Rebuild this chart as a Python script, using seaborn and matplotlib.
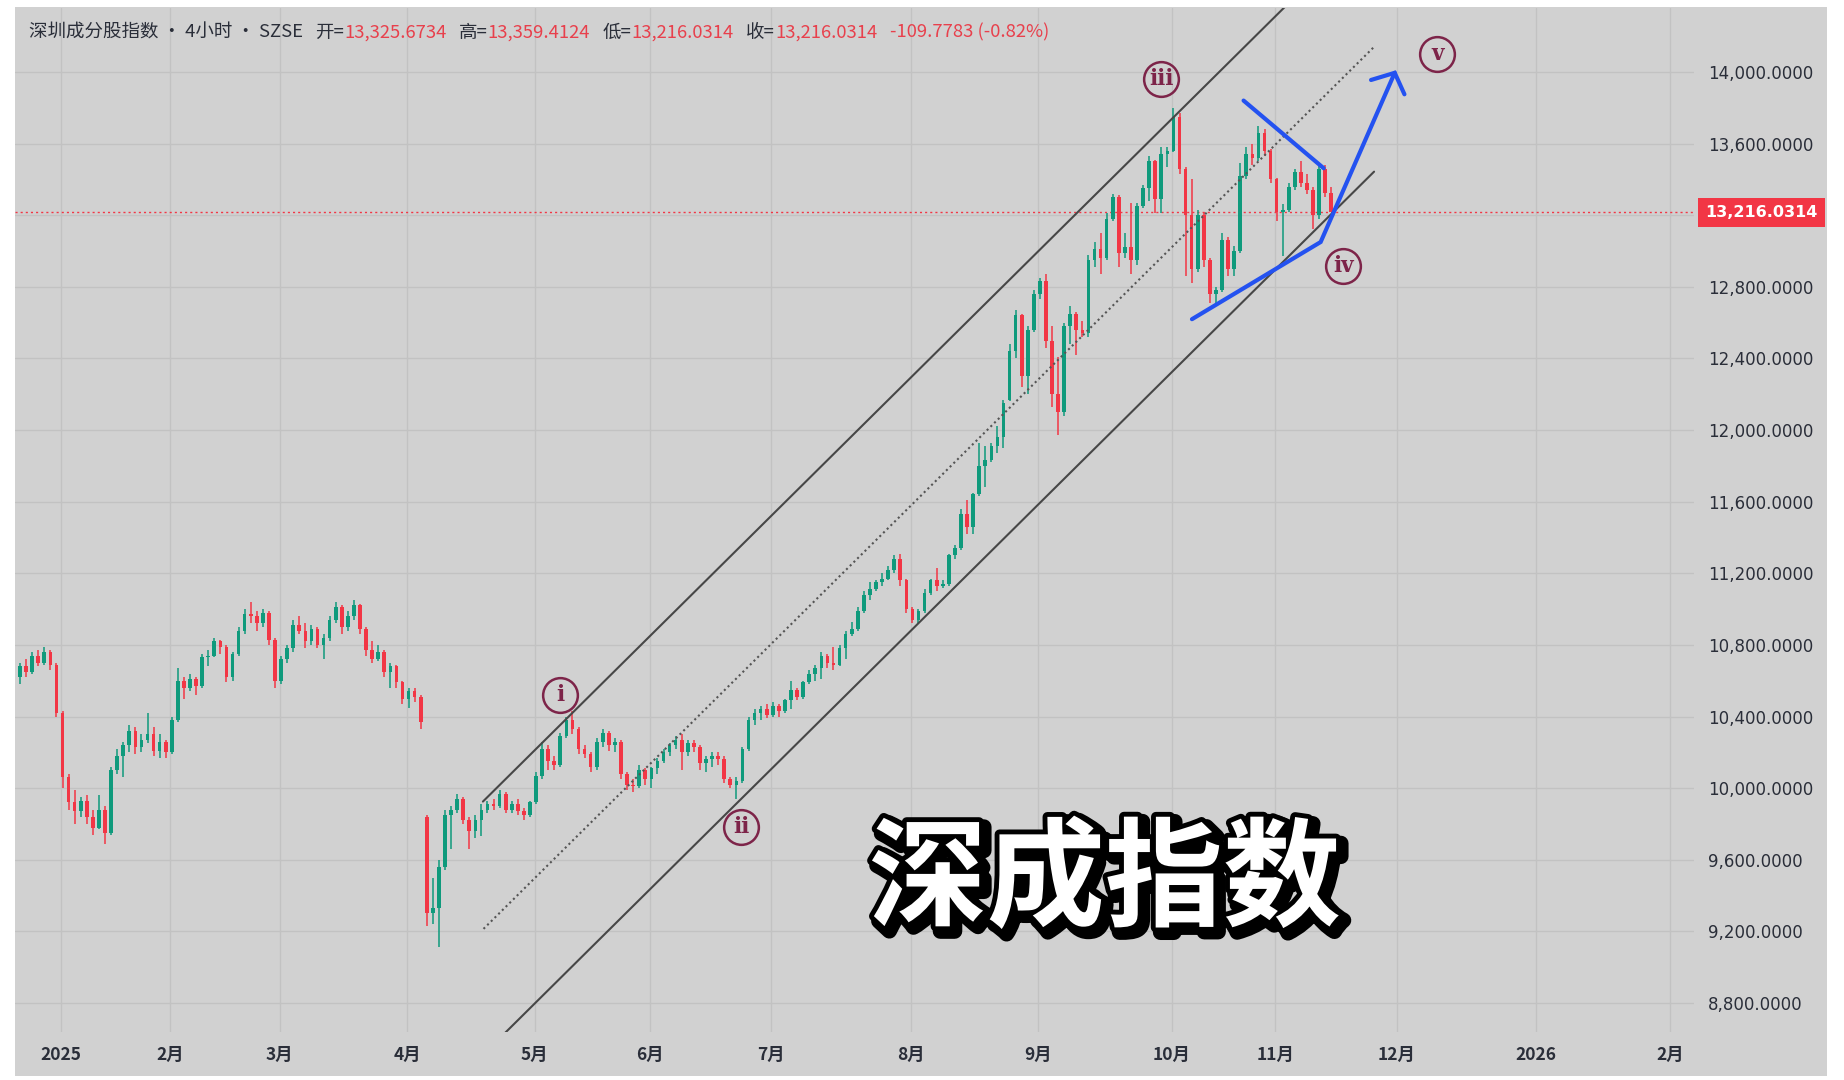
import numpy as np
import pandas as pd
import matplotlib
matplotlib.use("Agg")
import matplotlib.pyplot as plt
import seaborn as sns
from matplotlib import patheffects as pe
from matplotlib.patches import Rectangle

sns.set_theme(style="white")
plt.rcParams['font.family'] = ['Noto Sans CJK SC', 'DejaVu Sans']
plt.rcParams['axes.unicode_minus'] = False

# ---------------- data (daily candles, index 0 = 2025-01-02) ----------------
first_index = -7
opens = [
    10620, 10680, 10650, 10740, 10700, 10760, 10690, 10420, 10060, 9920,
    9870, 9930, 9840, 9780, 9880, 9750, 10100, 10180, 10240, 10320,
    10230, 10270, 10300, 10210, 10260, 10200, 10380, 10600, 10560, 10610,
    10570, 10730, 10740, 10820, 10790, 10620, 10750, 10880, 10970, 10960,
    10920, 10980, 10830, 10600, 10720, 10780, 10910, 10880, 10820, 10890,
    10800, 10840, 10940, 11010, 10900, 10960, 11020, 10890, 10770, 10720,
    10760, 10650, 10680, 10590, 10500, 10540, 10510, 9840, 9300, 9330,
    9560, 9850, 9880, 9940, 9820, 9760, 9820, 9880, 9910, 9900,
    9970, 9880, 9910, 9870, 9850, 9920, 10070, 10220, 10150, 10130,
    10290, 10380, 10330, 10220, 10190, 10120, 10260, 10310, 10240, 10260,
    10080, 10020, 10010, 10100, 10050, 10110, 10150, 10200, 10240, 10270,
    10200, 10250, 10230, 10140, 10160, 10180, 10160, 10050, 10020, 10040,
    10220, 10380, 10420, 10440, 10410, 10460, 10430, 10490, 10550, 10510,
    10590, 10640, 10670, 10740, 10700, 10690, 10780, 10860, 10890, 10990,
    11080, 11110, 11150, 11170, 11220, 11280, 11160, 11000, 10940, 10990,
    11090, 11160, 11130, 11140, 11300, 11340, 11530, 11460, 11640, 11800,
    11830, 11910, 11960, 12170, 12440, 12640, 12300, 12560, 12760, 12830,
    12500, 12200, 12100, 12580, 12650, 12560, 12540, 12950, 13010, 12960,
    13180, 13300, 12990, 13020, 12950, 13250, 13350, 13500, 13290, 13540,
    13560, 13750, 13460, 13200, 12900, 13200, 12950, 12760, 12780, 13060,
    12900, 13000, 13420, 13540, 13520, 13660, 13560, 13400, 13220, 13230,
    13360, 13440, 13380, 13340, 13200, 13460, 13325.6734,
]
highs = [
    10700, 10720, 10760, 10770, 10790, 10770, 10700, 10430, 10080, 9990,
    9950, 9960, 9880, 9960, 9900, 10120, 10220, 10260, 10350, 10340,
    10300, 10420, 10340, 10300, 10270, 10400, 10670, 10620, 10640, 10620,
    10750, 10770, 10840, 10830, 10800, 10760, 10900, 11000, 11040, 10990,
    11000, 10990, 10840, 10740, 10800, 10940, 10960, 10920, 10910, 10900,
    10860, 10960, 11040, 11020, 10990, 11050, 11030, 10900, 10820, 10800,
    10770, 10700, 10690, 10600, 10560, 10560, 10520, 9850, 9500, 9600,
    9880, 9900, 9970, 9950, 9840, 9850, 9910, 9930, 9940, 9990,
    9980, 9930, 9940, 9890, 9930, 10090, 10260, 10240, 10180, 10310,
    10400, 10430, 10340, 10240, 10200, 10280, 10330, 10320, 10280, 10270,
    10090, 10050, 10130, 10110, 10120, 10170, 10220, 10250, 10290, 10300,
    10270, 10270, 10240, 10180, 10200, 10200, 10180, 10060, 10060, 10230,
    10400, 10440, 10460, 10470, 10480, 10470, 10500, 10600, 10560, 10600,
    10660, 10690, 10760, 10750, 10790, 10800, 10880, 10930, 11010, 11100,
    11150, 11160, 11200, 11240, 11300, 11310, 11170, 11010, 11000, 11110,
    11170, 11230, 11160, 11310, 11360, 11560, 11610, 11650, 11930, 11910,
    11930, 12020, 12170, 12480, 12670, 12650, 12580, 12780, 12850, 12870,
    12580, 12410, 12600, 12690, 12660, 12610, 12980, 13050, 13100, 13210,
    13320, 13310, 13100, 13270, 13270, 13370, 13530, 13510, 13580, 13580,
    13800, 13770, 13470, 13400, 13230, 13220, 12960, 12800, 13100, 13080,
    13030, 13490, 13580, 13600, 13700, 13680, 13570, 13410, 13260, 13380,
    13460, 13500, 13430, 13360, 13480, 13480, 13359.4124,
]
lows = [
    10580, 10620, 10640, 10680, 10690, 10660, 10400, 10000, 9880, 9800,
    9840, 9800, 9740, 9770, 9690, 9740, 10080, 10060, 10200, 10190,
    10200, 10250, 10180, 10170, 10170, 10190, 10370, 10500, 10540, 10520,
    10560, 10680, 10730, 10750, 10590, 10600, 10740, 10860, 10920, 10880,
    10900, 10800, 10560, 10580, 10700, 10760, 10860, 10780, 10800, 10780,
    10720, 10820, 10920, 10860, 10880, 10940, 10860, 10740, 10700, 10710,
    10620, 10560, 10560, 10470, 10450, 10480, 10330, 9230, 9240, 9110,
    9540, 9660, 9860, 9800, 9660, 9720, 9730, 9860, 9880, 9890,
    9860, 9860, 9850, 9820, 9840, 9910, 10050, 10100, 10100, 10120,
    10280, 10300, 10190, 10170, 10090, 10100, 10230, 10210, 10200, 10050,
    9990, 9980, 10000, 10020, 10000, 10080, 10140, 10180, 10220, 10100,
    10180, 10200, 10100, 10090, 10120, 10130, 10030, 10000, 9940, 10030,
    10210, 10350, 10380, 10390, 10400, 10400, 10420, 10440, 10490, 10500,
    10580, 10600, 10610, 10670, 10660, 10680, 10720, 10850, 10880, 10980,
    11050, 11100, 11130, 11160, 11200, 11130, 10980, 10920, 10920, 10980,
    11080, 11100, 11120, 11130, 11280, 11330, 11420, 11420, 11630, 11680,
    11820, 11870, 11900, 12160, 12400, 12240, 12200, 12550, 12730, 12460,
    12130, 11970, 12080, 12480, 12420, 12520, 12520, 12910, 12870, 12950,
    13170, 12910, 12960, 12870, 12920, 13240, 13280, 13210, 13210, 13470,
    13550, 13430, 12860, 12820, 12880, 12910, 12710, 12690, 12770, 12860,
    12860, 12990, 13400, 13480, 13500, 13530, 13380, 13170, 12970, 13220,
    13340, 13360, 13320, 13120, 13180, 13300, 13216.0314,
]
closes = [
    10680, 10650, 10740, 10700, 10760, 10690, 10420, 10060, 9920, 9870,
    9930, 9840, 9780, 9880, 9750, 10100, 10180, 10240, 10320, 10230,
    10270, 10300, 10210, 10260, 10200, 10380, 10600, 10560, 10610, 10570,
    10730, 10740, 10820, 10790, 10620, 10750, 10880, 10970, 10960, 10920,
    10980, 10830, 10600, 10720, 10780, 10910, 10880, 10820, 10890, 10800,
    10840, 10940, 11010, 10900, 10960, 11020, 10890, 10770, 10720, 10760,
    10650, 10680, 10590, 10500, 10540, 10510, 10370, 9300, 9330, 9560,
    9850, 9880, 9940, 9820, 9760, 9820, 9880, 9910, 9900, 9970,
    9880, 9910, 9870, 9850, 9920, 10070, 10220, 10150, 10130, 10290,
    10380, 10330, 10220, 10190, 10120, 10260, 10310, 10240, 10260, 10080,
    10020, 10010, 10100, 10050, 10110, 10150, 10200, 10240, 10270, 10200,
    10250, 10230, 10140, 10160, 10180, 10160, 10050, 10020, 10040, 10220,
    10380, 10420, 10440, 10410, 10460, 10430, 10490, 10550, 10510, 10590,
    10640, 10670, 10740, 10700, 10690, 10780, 10860, 10890, 10990, 11080,
    11110, 11150, 11170, 11220, 11280, 11160, 11000, 10940, 10990, 11090,
    11160, 11130, 11140, 11300, 11340, 11530, 11460, 11640, 11800, 11830,
    11910, 11960, 12150, 12440, 12640, 12300, 12560, 12760, 12830, 12500,
    12200, 12100, 12580, 12650, 12560, 12540, 12950, 13010, 12960, 13180,
    13300, 12990, 13020, 12950, 13250, 13350, 13500, 13290, 13540, 13560,
    13750, 13460, 13200, 12900, 13200, 12950, 12760, 12780, 13060, 12900,
    13000, 13420, 13540, 13520, 13660, 13560, 13400, 13220, 13230, 13360,
    13440, 13380, 13340, 13200, 13460, 13325.8097, 13216.0314,
]

month_pos = [0, 18, 36, 57, 78, 97, 117, 140, 161, 183, 200, 220, 243, 265]
month_labels = ["2025", "2月", "3月", "4月", "5月", "6月", "7月", "8月",
                "9月", "10月", "11月", "12月", "2026", "2月"]
y_ticks = [8800, 9200, 9600, 10000, 10400, 10800, 11200, 11600,
           12000, 12400, 12800, 13200, 13600, 14000]

# channel (trend lines) anchor points, in (bar index, price)
chan_upper_x, chan_upper_y = [69.5, 201.6], [9925, 14363]
chan_mid_x, chan_mid_y = [69.6, 216.3], [9214, 14140]
chan_lower_x, chan_lower_y = [73.0, 216.3], [8628, 13443]
# hand-drawn blue lines
blue_top_x, blue_top_y = [194.8, 208.0], [13840, 13462]
blue_path_x, blue_path_y = [186.3, 207.5, 219.7], [12619, 13050, 13995]
arrow_x, arrow_y = [215.8, 219.7, 221.3], [13955, 13995, 13875]
# wave labels
wave_names = ["i", "ii", "iii", "iv", "v"]
wave_x = [82.2, 112.0, 181.2, 211.2, 226.7]
wave_y = [10521, 9783, 13961, 12917, 14101]

# ---------------- style ----------------
BG = "#d1d1d1"
GRID = "#c2c2c2"
GREEN = "#0f9a7c"
RED = "#f23645"
HRED = "#e8404c"
DARK = "#2a2e39"
BLUE = "#2452f0"
MAROON = "#7d2449"
W, H = 1844, 1080

fig = plt.figure(figsize=(W / 100, H / 100), dpi=100, facecolor="white")
fig.add_artist(Rectangle((15 / W, 4 / H), (1827 - 15) / W, (1076 - 7) / H,
                         transform=fig.transFigure, facecolor=BG,
                         edgecolor="none", zorder=0))
ax = fig.add_axes([15 / W, 48 / H, 1679 / W, 1024 / H])
ax.set_facecolor(BG)

df = pd.DataFrame({"x": np.arange(first_index, first_index + len(closes)) + 0.25,
                   "open": opens, "high": highs, "low": lows, "close": closes})
df["high"] = np.maximum(df["high"], df[["open", "close"]].max(axis=1))
df["low"] = np.minimum(df["low"], df[["open", "close"]].min(axis=1))
col = np.where(df["close"] >= df["open"], GREEN, RED)

ax.vlines(df["x"], df["low"], df["high"], colors=col, lw=1.1, zorder=3)
body = np.maximum((df["close"] - df["open"]).abs(), 8)
ax.bar(df["x"], body, bottom=df[["open", "close"]].min(axis=1), width=0.6,
       color=col, linewidth=0, zorder=4)

# channel lines
sns.lineplot(x=chan_upper_x, y=chan_upper_y, ax=ax, color="#474747", lw=1.5, zorder=5)
sns.lineplot(x=chan_lower_x, y=chan_lower_y, ax=ax, color="#474747", lw=1.5, zorder=5)
sns.lineplot(x=chan_mid_x, y=chan_mid_y, ax=ax, color="#555555", lw=1.5,
             linestyle=(0, (1, 1.5)), zorder=5)

# blue drawing
ax.plot(blue_top_x, blue_top_y, color=BLUE, lw=3, solid_capstyle="round", zorder=6)
ax.plot(blue_path_x, blue_path_y, color=BLUE, lw=3, solid_capstyle="round",
        solid_joinstyle="miter", zorder=6)
ax.plot(arrow_x, arrow_y, color=BLUE, lw=3, solid_capstyle="round",
        solid_joinstyle="miter", zorder=6, clip_on=False)

# wave labels
for name, wx, wy in zip(wave_names, wave_x, wave_y):
    ax.plot([wx], [wy], marker="o", ms=25, mfc="none", mec=MAROON, mew=1.8,
            zorder=7, clip_on=False)
    ax.text(wx, wy, name, ha="center", va="center", fontsize=15.5,
            family="DejaVu Serif", fontweight="bold", color=MAROON, zorder=7)

# last price line + label
last = closes[-1]
ax.axhline(last, color=RED, lw=1.0, ls=(0, (1.5, 2.2)), zorder=2)
ax.annotate(f"{last:,.4f}", xy=(1, last), xycoords=("axes fraction", "data"),
            xytext=(8, 0), textcoords="offset points", ha="left", va="center",
            fontsize=11.5, fontweight="bold", family="DejaVu Sans", color="white",
            bbox=dict(boxstyle="square,pad=0.45", fc=RED, ec="none"),
            annotation_clip=False, zorder=8)

# axes
ax.set_xlim(-7.58, 269.0)
ax.set_ylim(8638, 14357)
ax.yaxis.tick_right()
ax.set_yticks(y_ticks)
ax.set_yticklabels(["" if abs(v - last) < 150 else f"{v:,.4f}" for v in y_ticks],
                   family="DejaVu Sans")
ax.tick_params(axis="y", length=0, pad=10, labelsize=12, colors=DARK)
ax.set_xticks(month_pos)
ax.set_xticklabels(month_labels, fontweight="bold")
ax.tick_params(axis="x", length=0, pad=10, labelsize=12.5, colors=DARK)
ax.grid(True, color=GRID, lw=1)
ax.set_axisbelow(True)
for s in ax.spines.values():
    s.set_visible(False)
ax.set_xlabel("")
ax.set_ylabel("")

# header line
chg = closes[-1] - closes[-2]
pct = chg / closes[-2] * 100
pieces = [
    ("深圳成分股指数 · 4小时 · SZSE", DARK, 0),
    ("开=", DARK, 9), (f"{opens[-1]:,.4f}", HRED, 0),
    ("高=", DARK, 9), (f"{highs[-1]:,.4f}", HRED, 0),
    ("低=", DARK, 9), (f"{lows[-1]:,.4f}", HRED, 0),
    ("收=", DARK, 9), (f"{closes[-1]:,.4f}", HRED, 0),
    (f"{chg:.4f} ({pct:.2f}%)", HRED, 9),
]
HFS = 13.3
t = ax.text(0.0083, 0.976, pieces[0][0], transform=ax.transAxes, color=pieces[0][1],
            fontsize=HFS, va="center", ha="left", zorder=9)
for s, c, gap in pieces[1:]:
    t = ax.annotate(s, xy=(1, 0.5), xycoords=t, xytext=(gap, 0),
                    textcoords="offset points", va="center", ha="left",
                    color=c, fontsize=HFS, zorder=9)

# big title
ax.text(0.649, 0.146, "深成指数", transform=ax.transAxes, fontsize=85,
        fontweight="heavy", color="white", ha="center", va="center", zorder=10,
        path_effects=[pe.Stroke(linewidth=11, foreground="black", offset=(3.5, -3.5)),
                      pe.Stroke(linewidth=7, foreground="black"),
                      pe.Normal()])

fig.savefig("out.png", dpi=100, facecolor="white")
